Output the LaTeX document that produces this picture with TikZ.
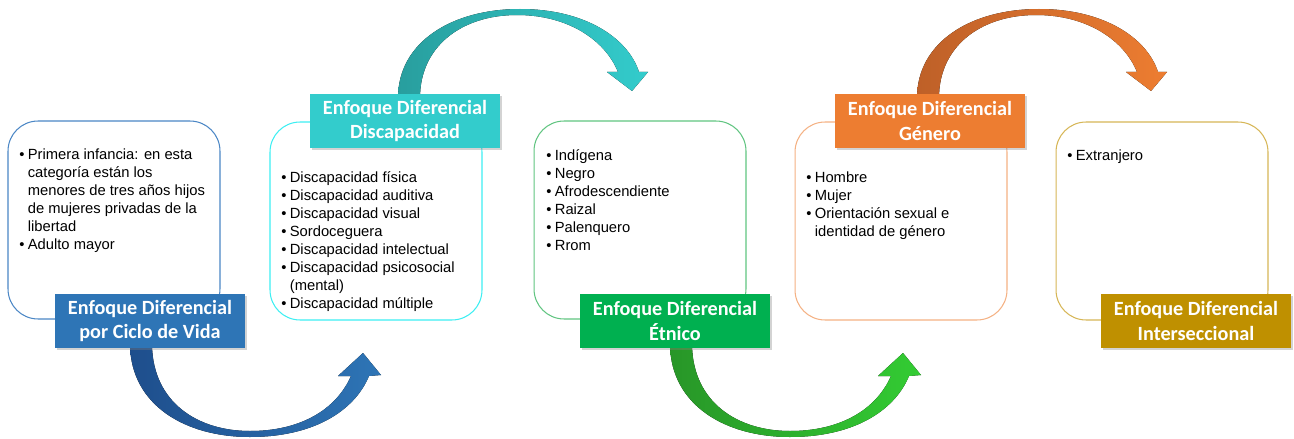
\documentclass[tikz,border=0pt]{standalone}
\usepackage{fontspec}
\setmainfont{Liberation Sans}
\newfontfamily\titlefont{Carlito}
\usetikzlibrary{shadows, positioning}

\definecolor{cicloblue}{RGB}{46,117,182}
\definecolor{cicloline}{RGB}{74,134,197}
\definecolor{ciclodark}{RGB}{30,78,140}
\definecolor{discteal}{RGB}{51,204,204}
\definecolor{discline}{RGB}{60,238,242}
\definecolor{discdark}{RGB}{40,158,158}
\definecolor{etnigreen}{RGB}{0,176,80}
\definecolor{etniline}{RGB}{96,196,128}
\definecolor{etniarrow}{RGB}{51,204,51}
\definecolor{etnidark}{RGB}{40,150,40}
\definecolor{genorange}{RGB}{237,125,49}
\definecolor{genline}{RGB}{244,177,131}
\definecolor{gendark}{RGB}{190,96,40}
\definecolor{intgold}{RGB}{191,144,0}
\definecolor{intline}{RGB}{214,182,86}

\newcommand{\bl}{\makebox[0.17cm][l]{\textbullet}}
\newcommand{\ind}{\hspace*{0.17cm}}

\begin{document}
\begin{tikzpicture}[x=0.02cm, y=-0.02cm,
    listbox/.style={draw=#1, line width=0.6pt, rounded corners=0.6cm,
        minimum width=4.24cm, minimum height=3.96cm, inner sep=0pt},
    tagbox/.style={fill=#1, minimum width=3.8cm, minimum height=1.08cm,
        inner sep=0pt, text=white, align=center,
        font=\titlefont\bfseries\fontsize{11.5}{13.7}\selectfont,
        drop shadow={shadow xshift=0.04cm, shadow yshift=-0.04cm, opacity=0.35}},
    items/.style={anchor=north west, inner sep=0pt, align=left,
        font=\fontsize{8.4}{10.2}\selectfont}]
\useasboundingbox (0,0) rectangle (1294,439);

% Arrows between the groups
\fill[left color=ciclodark, right color=cicloblue]
    (130,345) .. controls (131,405) and (185,437) .. (250,437)
    .. controls (312,437) and (354,412) .. (369,376) -- (381,375) -- (363,353) -- (338,376) -- (351,376)
    .. controls (336,410) and (300,431) .. (250,431)
    .. controls (197,431) and (153,402) .. (152,345) -- cycle;
\begin{scope}[shift={(540,0)}]
\fill[left color=etnidark, right color=etniarrow]
    (130,345) .. controls (131,405) and (185,437) .. (250,437)
    .. controls (312,437) and (354,412) .. (369,376) -- (381,375) -- (363,353) -- (338,376) -- (351,376)
    .. controls (336,410) and (300,431) .. (250,431)
    .. controls (197,431) and (153,402) .. (152,345) -- cycle;
\end{scope}
\fill[left color=discdark, right color=discteal]
    (398,98) .. controls (398,42) and (452,9) .. (520,9)
    .. controls (585,9) and (628,38) .. (639,72) -- (648,72) -- (632,91) -- (607,72) -- (618,72)
    .. controls (605,40) and (568,15) .. (517,15)
    .. controls (462,15) and (420,46) .. (420,98) -- cycle;
\begin{scope}[shift={(519,0)}]
\fill[left color=gendark, right color=genorange]
    (398,98) .. controls (398,42) and (452,9) .. (520,9)
    .. controls (585,9) and (628,38) .. (639,72) -- (648,72) -- (632,91) -- (607,72) -- (618,72)
    .. controls (605,40) and (568,15) .. (517,15)
    .. controls (462,15) and (420,46) .. (420,98) -- cycle;
\end{scope}

% Boxes
\node[listbox=cicloline] (box1) at (114,220) {};
\node[listbox=discline] (box2) at (376,221) {};
\node[listbox=etniline] (box3) at (640,220) {};
\node[listbox=genline] (box4) at (901,221) {};
\node[listbox=intline] (box5) at (1162,221) {};

% Lists
\node[items] (list1) at (19,147) {\strut\bl Primera infancia: en esta\\
    \ind categoría están los\\ \ind menores de tres años hijos\\
    \ind de mujeres privadas de la\\ \ind libertad\\ \bl Adulto mayor};
\node[items] (list2) at (281,170) {\strut\bl Discapacidad física\\
    \bl Discapacidad auditiva\\ \bl Discapacidad visual\\ \bl Sordoceguera\\
    \bl Discapacidad intelectual\\ \bl Discapacidad psicosocial\\
    \ind (mental)\\ \bl Discapacidad múltiple};
\node[items] (list3) at (546,148) {\strut\bl Indígena\\ \bl Negro\\
    \bl Afrodescendiente\\ \bl Raizal\\ \bl Palenquero\\ \bl Rrom};
\node[items] (list4) at (806,170) {\strut\bl Hombre\\ \bl Mujer\\
    \bl Orientación sexual e\\ \ind identidad de género};
\node[items] (list5) at (1067,148) {\strut\bl Extranjero};

% Group titles
\node[tagbox=cicloblue] (tag1) at (150,321) {Enfoque Diferencial\\por Ciclo de Vida};
\node[tagbox=discteal] (tag2) at (405,121) {Enfoque Diferencial\\Discapacidad};
\node[tagbox=etnigreen] (tag3) at (675,321) {Enfoque Diferencial\\Étnico};
\node[tagbox=genorange] (tag4) at (930,121) {Enfoque Diferencial\\Género};
\node[tagbox=intgold] (tag5) at (1196,321) {Enfoque Diferencial\\Interseccional};
\end{tikzpicture}
\end{document}
